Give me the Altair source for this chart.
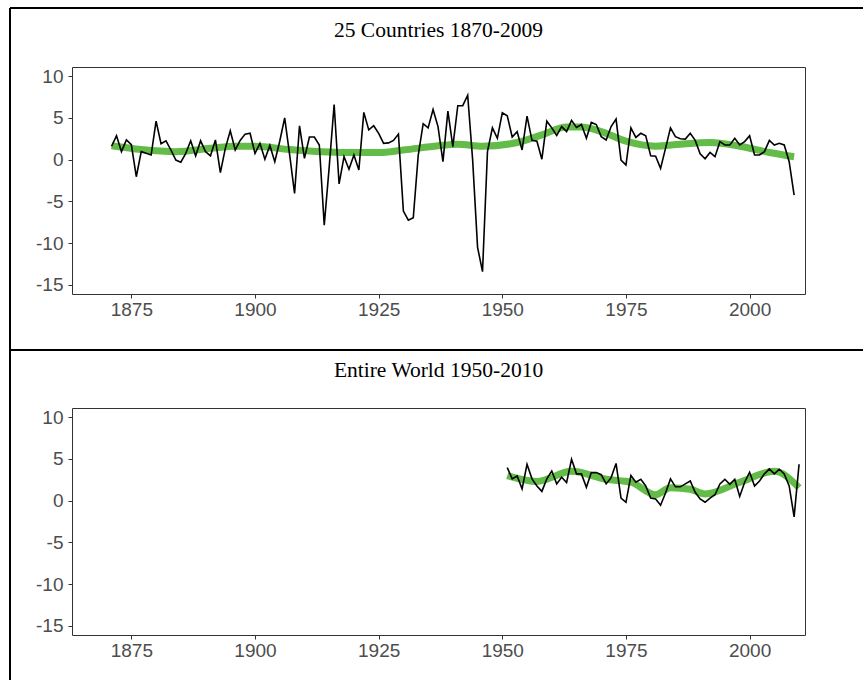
import altair as alt
import pandas as pd

# ---------------- data ----------------
years_top = list(range(1871, 2010))
growth_top = [
    1.6, 2.85, 0.95, 2.35, 1.8, -2.05, 0.95, 0.75, 0.55, 4.6,      # 1871-1880
    1.9, 2.25, 1.15, -0.05, -0.3, 0.75, 2.25, 0.45, 2.25, 0.95,    # 1881-1890
    0.45, 2.35, -1.55, 1.35, 3.45, 1.15, 2.3, 3.05, 3.15, 0.75,    # 1891-1900
    1.95, 0.05, 1.7, -0.25, 2.2, 5.0, 0.6, -4.05, 4.05, 0.15,      # 1901-1910
    2.7, 2.7, 1.75, -7.85, -0.9, 6.6, -2.9, 0.35, -1.15, 0.55,     # 1911-1920
    -1.25, 5.65, 3.55, 4.05, 3.15, 1.95, 2.0, 2.3, 3.05, -6.15,    # 1921-1930
    -7.25, -6.95, 0.5, 4.3, 3.8, 6.0, 3.95, -0.25, 5.8, 1.55,      # 1931-1940
    6.45, 6.45, 7.7, 0.0, -10.5, -13.4, 0.95, 3.8, 2.55, 5.6,      # 1941-1950
    5.25, 2.7, 3.35, 1.15, 5.2, 2.3, 2.2, 0.05, 4.6, 3.8,          # 1951-1960
    2.9, 3.95, 3.35, 4.7, 3.85, 4.2, 2.55, 4.45, 4.2, 2.75,        # 1961-1970
    2.35, 3.95, 4.85, -0.05, -0.65, 3.8, 2.65, 3.15, 2.85, 0.45,   # 1971-1980
    0.4, -1.05, 1.35, 3.8, 2.75, 2.5, 2.45, 3.15, 2.3, 0.7,        # 1981-1990
    0.1, 0.85, 0.35, 2.15, 1.75, 1.75, 2.55, 1.75, 2.15, 2.85,     # 1991-2000
    0.55, 0.55, 0.95, 2.3, 1.75, 1.95, 1.75, -0.25, -4.25,         # 2001-2009
]

years_world = list(range(1951, 2011))
growth_world = [
    3.95, 2.6, 2.95, 1.4, 4.35, 2.6, 1.75, 1.1, 2.6, 3.55,         # 1951-1960
    2.0, 2.8, 2.15, 4.95, 3.2, 3.2, 1.6, 3.35, 3.35, 3.1,          # 1961-1970
    2.0, 2.75, 4.45, 0.3, -0.2, 3.0, 2.2, 2.55, 1.75, 0.3,         # 1971-1980
    0.2, -0.55, 0.9, 2.6, 1.65, 1.65, 2.0, 2.35, 1.0, 0.2,         # 1981-1990
    -0.2, 0.3, 0.7, 2.0, 2.55, 1.95, 2.55, 0.5, 2.2, 3.4,          # 1991-2000
    1.75, 2.35, 3.2, 3.8, 3.2, 3.75, 3.2, 1.75, -1.95, 4.35,       # 2001-2010
]

# smooth trend (green)
trend_top_years = [1871, 1877, 1884, 1891, 1896, 1900, 1907, 1913, 1918, 1925,
                   1930, 1937, 1941, 1946, 1953, 1958, 1963, 1966, 1970, 1975,
                   1981, 1986, 1992, 1998, 2004, 2009]
trend_top = [1.65, 1.2, 0.95, 1.35, 1.6, 1.6, 1.2, 0.95, 0.84, 0.85,
             1.15, 1.65, 1.85, 1.6, 2.05, 2.95, 3.9, 3.9, 3.35, 2.2,
             1.6, 1.85, 2.05, 1.6, 0.85, 0.35]

trend_world_years = [1951, 1957, 1964, 1971, 1976, 1981, 1984, 1988, 1991, 1998, 2005, 2010]
trend_world = [3.0, 2.3, 3.5, 2.55, 2.2, 0.7, 1.55, 1.35, 0.8, 2.2, 3.5, 1.55]

titles = ["25 Countries 1870-2009", "Entire World 1950-2010"]
x_ticks = [1875, 1900, 1925, 1950, 1975, 2000]
y_ticks = [-15, -10, -5, 0, 5, 10]

# ---------------- styling ----------------
X_DOMAIN = [1863.0, 2011.2]
Y_DOMAIN = [-16.08, 11.08]
W, H = 733, 227
GREEN = "#63bc47"
FRAME_RIGHT = 791


def rule(**enc):
    return alt.Chart(pd.DataFrame({"k": [0]})).mark_rule(
        color="black", strokeWidth=2
    ).encode(**enc)


def panel(years, values, t_years, t_values, title, frame_layers, title_offset):
    df = pd.DataFrame({"year": years, "growth": values})
    tdf = pd.DataFrame({"year": t_years, "trend": t_values})
    x = alt.X(
        "year:Q",
        scale=alt.Scale(domain=X_DOMAIN, nice=False, zero=False),
        axis=alt.Axis(values=x_ticks, title=None, format="d", labelPadding=2),
    )
    trend = alt.Chart(tdf).mark_line(
        color=GREEN, strokeWidth=7, interpolate="monotone", strokeCap="butt"
    ).encode(
        x=x,
        y=alt.Y(
            "trend:Q",
            scale=alt.Scale(domain=Y_DOMAIN, nice=False, zero=False),
            axis=alt.Axis(values=y_ticks, title=None, labelExpr="'' + datum.value",
                          labelPadding=5),
        ),
    )
    line = alt.Chart(df).mark_line(color="black", strokeWidth=1.6).encode(
        x="year:Q", y="growth:Q"
    )
    return alt.layer(*frame_layers, trend, line).properties(
        width=W,
        height=H,
        title=alt.TitleParams(
            title,
            font="Liberation Serif",
            fontSize=21.5,
            fontWeight="normal",
            color="black",
            anchor="middle",
            frame="group",
            baseline="alphabetic",
            offset=title_offset,
        ),
    )


top_frame = [
    rule(x=alt.value(-62), x2=alt.value(FRAME_RIGHT), y=alt.value(-59)),
    rule(x=alt.value(-62), x2=alt.value(FRAME_RIGHT), y=alt.value(283)),
    rule(x=alt.value(-62), y=alt.value(-59), y2=alt.value(283)),
]
bottom_frame = [
    rule(x=alt.value(-62), y=alt.value(-58), y2=alt.value(272)),
]

top = panel(years_top, growth_top, trend_top_years, trend_top, titles[0], top_frame, -51)
bottom = panel(years_world, growth_world, trend_world_years, trend_world, titles[1],
               bottom_frame, -49)

chart = alt.vconcat(top, bottom, spacing=114, bounds="flush").properties(
    padding={"left": 8, "top": 6, "right": 0, "bottom": 0},
    autosize=alt.AutoSizeParams(type="pad"),
    background="white",
).configure_view(
    stroke="#333333", strokeWidth=1
).configure_axis(
    domain=False,
    grid=False,
    ticks=True,
    tickColor="#333333",
    tickSize=4,
    tickWidth=1,
    labelFont="Liberation Sans",
    labelFontSize=19,
    labelColor="#4d4d4d",
)

chart.save("out.html", embed_options={"renderer": "svg", "actions": False})
